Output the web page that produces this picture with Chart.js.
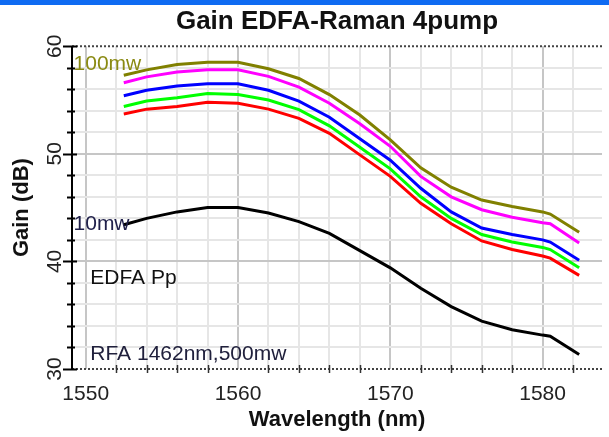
<!DOCTYPE html>
<html lang="en">
<head>
    <meta charset="UTF-8">
    <title>Gain EDFA-Raman 4pump</title>
    <script src="https://cdn.jsdelivr.net/npm/chart.js"></script>
    <style>
        body { margin: 0; background: #fff; }
        .frame { position: relative; width: 609px; height: 437px; }
        .frame .bar { position: absolute; left: 0; top: 0; width: 609px; height: 5px; background: #0f6bf2; }
    </style>
</head>
<body>
    <div class="frame">
        <canvas id="gain" width="609" height="437"></canvas>
        <div class="bar"></div>
    </div>

<script>
// wavelength in nm, gain in dB
var wavelength = [1552.5, 1554, 1556, 1558, 1560, 1562, 1564, 1566, 1568, 1570, 1572, 1574, 1576, 1578, 1580, 1580.5, 1582.4];

var gain100mw   = [57.3, 57.8, 58.3, 58.5, 58.5, 57.9, 57.0, 55.5, 53.6, 51.3, 48.7, 46.9, 45.7, 45.1, 44.6, 44.4, 42.7];
var gainMagenta = [56.6, 57.15, 57.6, 57.8, 57.8, 57.2, 56.2, 54.7, 52.8, 50.7, 47.9, 46.0, 44.8, 44.1, 43.6, 43.5, 41.7];
var gainBlue    = [55.4, 55.9, 56.3, 56.5, 56.5, 55.9, 54.9, 53.4, 51.4, 49.4, 46.8, 44.6, 43.1, 42.5, 42.0, 41.8, 40.1];
var gainGreen   = [54.4, 54.9, 55.2, 55.6, 55.5, 55.0, 54.1, 52.6, 50.6, 48.6, 46.0, 44.0, 42.5, 41.8, 41.3, 41.1, 39.4];
var gainRed     = [53.7, 54.15, 54.4, 54.8, 54.7, 54.15, 53.3, 51.9, 49.9, 47.9, 45.4, 43.5, 41.9, 41.1, 40.5, 40.3, 38.7];
var gain10mw    = [43.4, 44.0, 44.6, 45.0, 45.0, 44.5, 43.7, 42.6, 41.0, 39.4, 37.5, 35.8, 34.45, 33.65, 33.15, 33.05, 31.35];

var xLabels = [1550, 1560, 1570, 1580];
var yLabels = [30, 40, 50, 60];

var FONT = '"Liberation Sans", Arial, sans-serif';

function points(values) {
    return values.map((v, i) => ({ x: wavelength[i], y: v }));
}

function line(values, color) {
    return {
        data: points(values),
        borderColor: color,
        borderWidth: 3,
        pointRadius: 0,
        tension: 0,
        fill: false
    };
}

function stepTicks(scale, from, to, step) {
    var ticks = [];
    for (var v = from; v <= to; v += step) ticks.push({ value: v });
    scale.ticks = ticks;
}

function gridColor(ctx) {
    var v = ctx.tick.value;
    if (v === 30 || v === 60) return 'rgba(0,0,0,0)';
    return v % 10 === 0 ? '#c6c6c6' : '#e6e6e6';
}

// text labels inside the plot, anchored in data units
var notes = [
    { text: '100mw', x: 1549.2, y: 58.35, color: '#8a8a12' },
    { text: '10mw', x: 1549.2, y: 43.5, color: '#20204a' },
    { text: 'EDFA Pp', x: 1550.3, y: 38.45, color: '#111' },
    { text: 'RFA 1462nm,500mw', x: 1550.3, y: 31.4, color: '#20203c' }
];

var plotExtras = {
    id: 'plotExtras',
    afterDatasetsDraw(chart) {
        var ctx = chart.ctx, area = chart.chartArea;
        var xs = chart.scales.x, ys = chart.scales.y;
        ctx.save();

        // dotted lines along the top and the bottom (x axis) of the plot
        ctx.strokeStyle = '#444';
        ctx.lineWidth = 2;
        ctx.setLineDash([2, 2]);
        ctx.beginPath();
        ctx.moveTo(area.left, area.top);
        ctx.lineTo(area.right, area.top);
        ctx.moveTo(area.left, area.bottom);
        ctx.lineTo(area.right, area.bottom);
        ctx.stroke();
        ctx.setLineDash([]);

        // solid y axis, ticks cross it
        ctx.strokeStyle = '#000';
        ctx.beginPath();
        ctx.moveTo(area.left, area.top);
        ctx.lineTo(area.left, area.bottom);
        ctx.stroke();
        ys.ticks.forEach(t => {
            var py = Math.round(ys.getPixelForValue(t.value)) + 0.5;
            var major = t.value % 10 === 0;
            ctx.beginPath();
            ctx.moveTo(area.left - (major ? 9 : 5), py);
            ctx.lineTo(area.left + (major ? 5 : 3), py);
            ctx.stroke();
        });

        // small marks on the dotted x axis
        ctx.strokeStyle = '#333';
        ctx.lineWidth = 1.5;
        xs.ticks.forEach(t => {
            if (t.value % 10 === 0) return;
            var px = Math.round(xs.getPixelForValue(t.value)) + 0.5;
            ctx.beginPath();
            ctx.moveTo(px, area.bottom - 4);
            ctx.lineTo(px, area.bottom + 4);
            ctx.stroke();
        });

        // curve labels
        ctx.font = '21px ' + FONT;
        ctx.textAlign = 'left';
        ctx.textBaseline = 'middle';
        notes.forEach(n => {
            ctx.fillStyle = n.color;
            ctx.fillText(n.text, xs.getPixelForValue(n.x), ys.getPixelForValue(n.y));
        });

        ctx.restore();
    }
};

new Chart(document.getElementById('gain'), {
    type: 'line',
    data: {
        datasets: [
            line(gain10mw, '#000000'),
            line(gainRed, '#ff0000'),
            line(gainGreen, '#00ff00'),
            line(gainBlue, '#0000ff'),
            line(gainMagenta, '#ff00ff'),
            line(gain100mw, '#808000')
        ]
    },
    options: {
        responsive: false,
        animation: false,
        devicePixelRatio: 1,
        layout: { padding: { left: 0, right: 7, top: 0, bottom: 0 } },
        plugins: {
            legend: { display: false },
            tooltip: { enabled: false },
            title: {
                display: true,
                text: 'Gain EDFA-Raman 4pump',
                fullSize: false,
                color: '#111',
                font: { family: FONT, size: 26, weight: 'bold' },
                padding: { top: 6, bottom: 9 }
            }
        },
        scales: {
            x: {
                type: 'linear',
                min: 1549.1,
                max: 1583.9,
                afterBuildTicks: s => stepTicks(s, 1550, 1582, 2),
                afterFit: s => { s.height = 68; },
                ticks: {
                    autoSkip: false,
                    maxRotation: 0,
                    padding: 13,
                    color: '#222',
                    font: { family: FONT, size: 21 },
                    callback: v => xLabels.includes(v) ? String(v) : ''
                },
                grid: { color: gridColor, lineWidth: 2, drawTicks: false },
                border: { display: false },
                title: {
                    display: true,
                    text: 'Wavelength (nm)',
                    color: '#111',
                    font: { family: FONT, size: 22, weight: 'bold' },
                    padding: { top: 0, bottom: 4 }
                }
            },
            y: {
                min: 30,
                max: 60,
                afterBuildTicks: s => stepTicks(s, 30, 60, 2),
                afterFit: s => { s.width = 72; },
                ticks: {
                    autoSkip: false,
                    minRotation: 90,
                    maxRotation: 90,
                    crossAlign: 'center',
                    padding: 5,
                    color: '#222',
                    font: { family: FONT, size: 21 },
                    callback: v => yLabels.includes(v) ? String(v) : ''
                },
                grid: { color: gridColor, lineWidth: 2, drawTicks: false },
                border: { display: false },
                title: {
                    display: true,
                    text: 'Gain (dB)',
                    color: '#111',
                    font: { family: FONT, size: 22, weight: 'bold' },
                    padding: { top: 9, bottom: 0 }
                }
            }
        }
    },
    plugins: [plotExtras]
});
</script>
</body>
</html>
